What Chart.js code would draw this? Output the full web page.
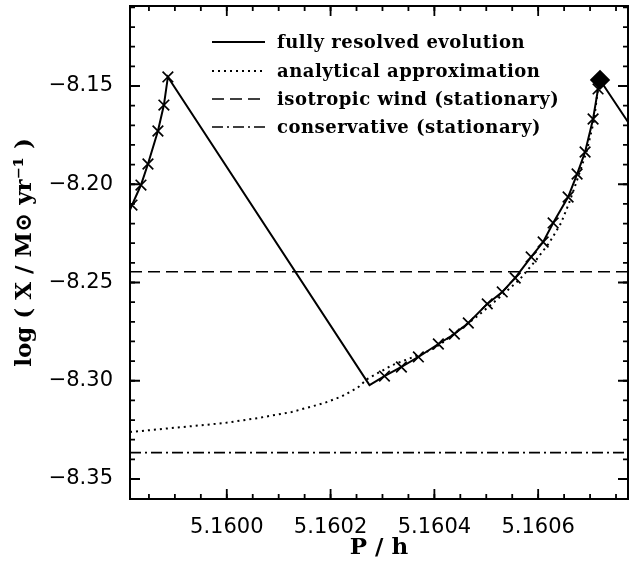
<!DOCTYPE html>
<html>
<head>
<meta charset="utf-8">
<script src="https://cdn.jsdelivr.net/npm/chart.js@4.4.1/dist/chart.umd.min.js"></script>
<style>
  html, body { margin: 0; padding: 0; background: #fff; }
  #wrap { width: 631px; height: 561px; }
</style>
</head>
<body>
<div id="wrap"><canvas id="massLossChart"></canvas></div>
<script>
// fully resolved evolution (solid line, crosses = computed models, diamond = end state)
const trackP = [
  5.1598135, 5.1598173, 5.1598346, 5.1598481, 5.1598673, 5.1598788, 5.1598865,
  5.160275,
  5.1603038, 5.1603365, 5.1603692, 5.1604077, 5.1604385, 5.1604654, 5.1605019,
  5.1605308, 5.1605558, 5.1605865, 5.1606096, 5.1606288, 5.1606577, 5.160675,
  5.1606904, 5.1607058, 5.1607154, 5.1607192, 5.1607769
];
const trackLog = [
  -8.2131, -8.2106, -8.2004, -8.1897, -8.1729, -8.1597, -8.1454,
  -8.3022,
  -8.2976, -8.2930, -8.2879, -8.2813, -8.2762, -8.2706, -8.2609,
  -8.2548, -8.2477, -8.2370, -8.2294, -8.2197, -8.2065, -8.1948,
  -8.1836, -8.1668, -8.1515, -8.1469, -8.1698
];
const trackMarker = [
  "none", "x", "x", "x", "x", "x", "x",
  "none",
  "x", "x", "x", "x", "x", "x", "x",
  "x", "x", "x", "x", "x", "x", "x",
  "x", "x", "x", "diamond", "none"
];

// analytical approximation (dotted)
const approxP = [
  5.1598135, 5.1599962, 5.1600596, 5.160125, 5.1601885, 5.1602212, 5.1602519,
  5.1602712, 5.1603192, 5.1603846, 5.1604096, 5.1604808, 5.1605154, 5.1605635,
  5.1605962, 5.1606212, 5.1606442, 5.1606596, 5.1606731, 5.1606942, 5.1607077,
  5.1607154
];
const approxLog = [
  -8.3261, -8.3215, -8.3190, -8.3159, -8.3113, -8.3080, -8.3036,
  -8.2990, -8.2920, -8.2854, -8.2818, -8.2676, -8.2599, -8.2487,
  -8.2385, -8.2299, -8.2197, -8.2095, -8.1994, -8.1826, -8.1673,
  -8.1510
];

// stationary solutions (horizontal lines)
const isotropicLog = -8.2445;
const conservativeLog = -8.3366;

const xMin = 5.1598135;
const xMax = 5.1607731;
const yMin = -8.36018;
const yMax = -8.10929;

const xMajorTicks = [5.16, 5.1602, 5.1604, 5.1606];
const xMinorStep = 0.00005;
const yMajorTicks = [-8.35, -8.3, -8.25, -8.2, -8.15];
const yMinorStep = 0.01;

const legendLabels = [
  "fully resolved evolution",
  "analytical approximation",
  "isotropic wind (stationary)",
  "conservative (stationary)"
];

Chart.defaults.color = "#000";

const toPoints = (xs, ys) => xs.map((x, i) => ({ x: x, y: ys[i] }));

const lineStyles = [
  { dash: [], width: 2 },
  { dash: [2, 4], width: 2 },
  { dash: [12, 6], width: 1.6 },
  { dash: [11, 4, 2, 4], width: 1.6 }
];

// inward IDL-style ticks on all four sides plus the frame
const frameTicks = {
  id: "frameTicks",
  afterDatasetsDraw(chart) {
    const { ctx, chartArea: a, scales } = chart;
    const xs = scales.x;
    const ys = scales.y;
    ctx.save();
    ctx.strokeStyle = "#000";
    ctx.lineWidth = 1.8;
    ctx.setLineDash([]);

    const tickX = (v, len) => {
      const px = xs.getPixelForValue(v);
      if (px < a.left + 1 || px > a.right - 1) return;
      ctx.beginPath();
      ctx.moveTo(px, a.bottom);
      ctx.lineTo(px, a.bottom - len);
      ctx.moveTo(px, a.top);
      ctx.lineTo(px, a.top + len);
      ctx.stroke();
    };
    const tickY = (v, len) => {
      const py = ys.getPixelForValue(v);
      if (py < a.top + 1 || py > a.bottom - 1) return;
      ctx.beginPath();
      ctx.moveTo(a.left, py);
      ctx.lineTo(a.left + len, py);
      ctx.moveTo(a.right, py);
      ctx.lineTo(a.right - len, py);
      ctx.stroke();
    };

    for (let v = Math.ceil(xMin / xMinorStep) * xMinorStep; v < xMax; v += xMinorStep) {
      tickX(v, 5);
    }
    xMajorTicks.forEach((v) => tickX(v, 10));
    for (let v = Math.ceil(yMin / yMinorStep) * yMinorStep; v < yMax; v += yMinorStep) {
      tickY(v, 5);
    }
    yMajorTicks.forEach((v) => tickY(v, 10));

    ctx.lineWidth = 2;
    ctx.strokeRect(a.left, a.top, a.right - a.left, a.bottom - a.top);
    ctx.restore();
  }
};

// legend drawn inside the plot, upper middle
const insideLegend = {
  id: "insideLegend",
  afterDraw(chart) {
    const { ctx } = chart;
    ctx.save();
    ctx.fillStyle = "#000";
    ctx.strokeStyle = "#000";
    ctx.font = "bold 18px 'DejaVu Serif'";
    ctx.letterSpacing = "0.5px";
    ctx.textBaseline = "middle";
    ctx.textAlign = "left";
    const rows = [42, 71, 99, 127];
    legendLabels.forEach((label, i) => {
      const y = rows[i];
      ctx.lineWidth = lineStyles[i].width;
      ctx.setLineDash(lineStyles[i].dash);
      ctx.beginPath();
      ctx.moveTo(212, y);
      ctx.lineTo(265, y);
      ctx.stroke();
      ctx.fillText(label, 277, y + 1);
    });
    ctx.restore();
  }
};

const ctx = document.getElementById("massLossChart").getContext("2d");

const massLossChart = new Chart(ctx, {
  type: "scatter",
  data: {
    datasets: [
      {
        label: legendLabels[0],
        data: toPoints(trackP, trackLog),
        showLine: true,
        borderColor: "#000",
        borderWidth: lineStyles[0].width,
        backgroundColor: "#000",
        pointStyle: (c) => (trackMarker[c.dataIndex] === "diamond" ? "rectRot" : "crossRot"),
        pointRadius: (c) => {
          const m = trackMarker[c.dataIndex];
          if (m === "diamond") return 9;
          if (m === "x") return 7.5;
          return 0;
        },
        pointBorderWidth: 1.7,
        pointBorderColor: "#000",
        pointBackgroundColor: "#000",
        order: 0
      },
      {
        label: legendLabels[1],
        data: toPoints(approxP, approxLog),
        showLine: true,
        borderColor: "#000",
        borderWidth: lineStyles[1].width,
        borderDash: lineStyles[1].dash,
        pointRadius: 0,
        order: 1
      },
      {
        label: legendLabels[2],
        data: [{ x: xMin, y: isotropicLog }, { x: xMax, y: isotropicLog }],
        showLine: true,
        borderColor: "#000",
        borderWidth: lineStyles[2].width,
        borderDash: lineStyles[2].dash,
        pointRadius: 0,
        order: 2
      },
      {
        label: legendLabels[3],
        data: [{ x: xMin, y: conservativeLog }, { x: xMax, y: conservativeLog }],
        showLine: true,
        borderColor: "#000",
        borderWidth: lineStyles[3].width,
        borderDash: lineStyles[3].dash,
        pointRadius: 0,
        order: 3
      }
    ]
  },
  options: {
    responsive: true,
    maintainAspectRatio: false,
    animation: false,
    devicePixelRatio: 1,
    layout: {
      padding: { top: 6, right: 3, left: 0, bottom: 0 }
    },
    scales: {
      x: {
        type: "linear",
        min: xMin,
        max: xMax,
        afterBuildTicks: (s) => {
          s.ticks = xMajorTicks.map((v) => ({ value: v }));
        },
        afterFit: (s) => {
          s.height = 62;
          s.paddingLeft = 0;
          s.paddingRight = 0;
        },
        ticks: {
          callback: (v) => Number(v).toFixed(4),
          font: { family: "'DejaVu Sans'", size: 21 },
          color: "#000",
          padding: 8,
          maxRotation: 0,
          autoSkip: false
        },
        grid: { display: false },
        border: { display: false },
        title: {
          display: true,
          text: "P / h",
          color: "#000",
          font: { family: "'DejaVu Serif'", size: 23, weight: "bold", lineHeight: 1.1 },
          padding: { top: 0, bottom: 0 }
        }
      },
      y: {
        type: "linear",
        min: yMin,
        max: yMax,
        afterBuildTicks: (s) => {
          s.ticks = yMajorTicks.map((v) => ({ value: v }));
        },
        afterFit: (s) => {
          s.width = 130;
          s.paddingTop = 0;
          s.paddingBottom = 0;
        },
        ticks: {
          callback: (v) => "\u2212" + Math.abs(v).toFixed(2),
          font: { family: "'DejaVu Sans'", size: 21 },
          color: "#000",
          padding: 9,
          autoSkip: false
        },
        grid: { display: false },
        border: { display: false },
        title: {
          display: true,
          text: "log ( X / M\u2299 yr\u207B\u00B9 )",
          color: "#000",
          font: { family: "'DejaVu Serif'", size: 23, weight: "bold", lineHeight: 1.2 },
          padding: { top: 11, bottom: 0 }
        }
      }
    },
    plugins: {
      legend: { display: false },
      tooltip: { enabled: false }
    }
  },
  plugins: [frameTicks, insideLegend]
});
</script>
</body>
</html>
